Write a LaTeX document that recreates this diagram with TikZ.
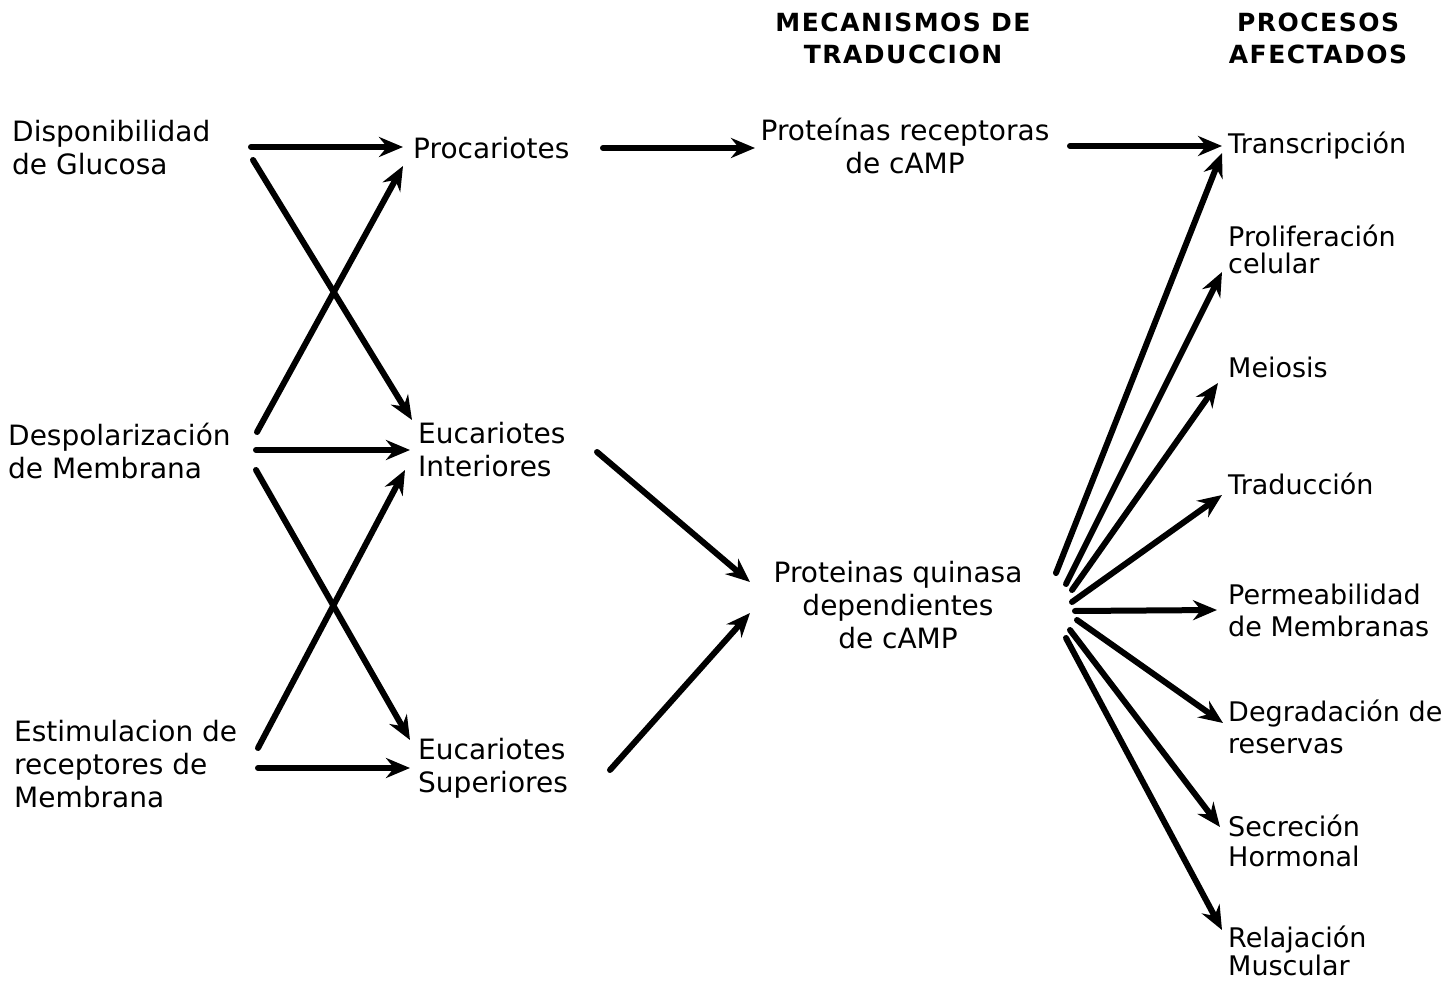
\documentclass[tikz,border=0pt]{standalone}
\usepackage{fontspec}
\setmainfont{DejaVu Sans}
\newfontfamily\hdrfont{DejaVu Sans Bold}[LetterSpace=6]
\usetikzlibrary{arrows.meta}
\begin{document}
\begin{tikzpicture}[x=1pt,y=-1pt,
  lbl/.style={font=\fontsize{28}{33}\selectfont, inner sep=0pt, align=left, anchor=west},
  rlbl/.style={lbl, font=\fontsize{27}{32}\selectfont},
  ctr/.style={lbl, align=center, anchor=center},
  hdr/.style={font=\hdrfont\fontsize{25}{32}\selectfont, inner sep=0pt, align=center},
  arr/.style={line width=6pt, line cap=round, -{Stealth[length=24pt,width=20pt,inset=8pt]}}]
\useasboundingbox[fill=white] (0,0) rectangle (1443,981);

% headers
\node[hdr] (h1) at (903,38) {MECANISMOS DE\\TRADUCCION};
\node[hdr] (h2) at (1318,38) {PROCESOS\\AFECTADOS};

% left column
\node[lbl] (glu) at (12,148) {Disponibilidad\\de Glucosa};
\node[lbl] (dep) at (8,451) {Despolarización\\de Membrana};
\node[lbl] (est) at (14,764) {Estimulacion de\\receptores de\\Membrana};

% second column
\node[lbl] (pro) at (413,148) {Procariotes};
\node[lbl] (einf) at (418,450) {Eucariotes\\Interiores};
\node[lbl] (esup) at (418,768) {Eucariotes\\Superiores};

% third column
\node[ctr] (prec) at (905,146) {Proteínas receptoras\\de cAMP};
\node[ctr] (pqui) at (898,605) {Proteinas quinasa\\dependientes\\de cAMP};

% right column
\node[rlbl] (tra) at (1228,146) {Transcripción};
\node[rlbl, font=\fontsize{27}{27}\selectfont] (pro2) at (1228,249) {Proliferación\\celular};
\node[rlbl] (mei) at (1228,367) {Meiosis};
\node[rlbl] (trd) at (1228,484) {Traducción};
\node[rlbl] (per) at (1228,610) {Permeabilidad\\de Membranas};
\node[rlbl] (deg) at (1228,727) {Degradación de\\reservas};
\node[rlbl, font=\fontsize{27}{30}\selectfont] (sec) at (1228,841) {Secreción\\Hormonal};
\node[rlbl, font=\fontsize{27}{28}\selectfont] (rel) at (1228,951) {Relajación\\Muscular};

% connector end points
\coordinate (glu-o1) at (251,147); \coordinate (pro-i1) at (403,147);
\coordinate (glu-o2) at (253,160); \coordinate (einf-i1) at (412,420);
\coordinate (dep-o1) at (257,432); \coordinate (pro-i2) at (403,166);
\coordinate (dep-o2) at (256,450); \coordinate (einf-i2) at (410,450);
\coordinate (dep-o3) at (256,470); \coordinate (esup-i1) at (410,740);
\coordinate (est-o1) at (258,748); \coordinate (einf-i3) at (405,470);
\coordinate (est-o2) at (258,768); \coordinate (esup-i2) at (410,768);
\coordinate (pro-o) at (603,148); \coordinate (prec-i) at (755,148);
\coordinate (einf-o) at (597,452); \coordinate (pqui-i1) at (750,582);
\coordinate (esup-o) at (610,770); \coordinate (pqui-i2) at (750,613);
\coordinate (prec-o) at (1070,146); \coordinate (tra-i1) at (1222,146);
\coordinate (pq1) at (1056,573); \coordinate (tra-i2) at (1222,153);
\coordinate (pq2) at (1066,584); \coordinate (pro2-i) at (1222,272);
\coordinate (pq3) at (1072,590); \coordinate (mei-i) at (1218,383);
\coordinate (pq4) at (1072,602); \coordinate (trd-i) at (1222,495);
\coordinate (pq5) at (1075,611); \coordinate (per-i) at (1217,610);
\coordinate (pq6) at (1077,620); \coordinate (deg-i) at (1223,723);
\coordinate (pq7) at (1070,630); \coordinate (sec-i) at (1220,827);
\coordinate (pq8) at (1066,638); \coordinate (rel-i) at (1222,930);

% connectors
\draw[arr] (glu-o1) -- (pro-i1);
\draw[arr] (glu-o2) -- (einf-i1);
\draw[arr] (dep-o1) -- (pro-i2);
\draw[arr] (dep-o2) -- (einf-i2);
\draw[arr] (dep-o3) -- (esup-i1);
\draw[arr] (est-o1) -- (einf-i3);
\draw[arr] (est-o2) -- (esup-i2);
\draw[arr] (pro-o) -- (prec-i);
\draw[arr] (einf-o) -- (pqui-i1);
\draw[arr] (esup-o) -- (pqui-i2);
\draw[arr] (prec-o) -- (tra-i1);
\draw[arr] (pq1) -- (tra-i2);
\draw[arr] (pq2) -- (pro2-i);
\draw[arr] (pq3) -- (mei-i);
\draw[arr] (pq4) -- (trd-i);
\draw[arr] (pq5) -- (per-i);
\draw[arr] (pq6) -- (deg-i);
\draw[arr] (pq7) -- (sec-i);
\draw[arr] (pq8) -- (rel-i);
\end{tikzpicture}
\end{document}
